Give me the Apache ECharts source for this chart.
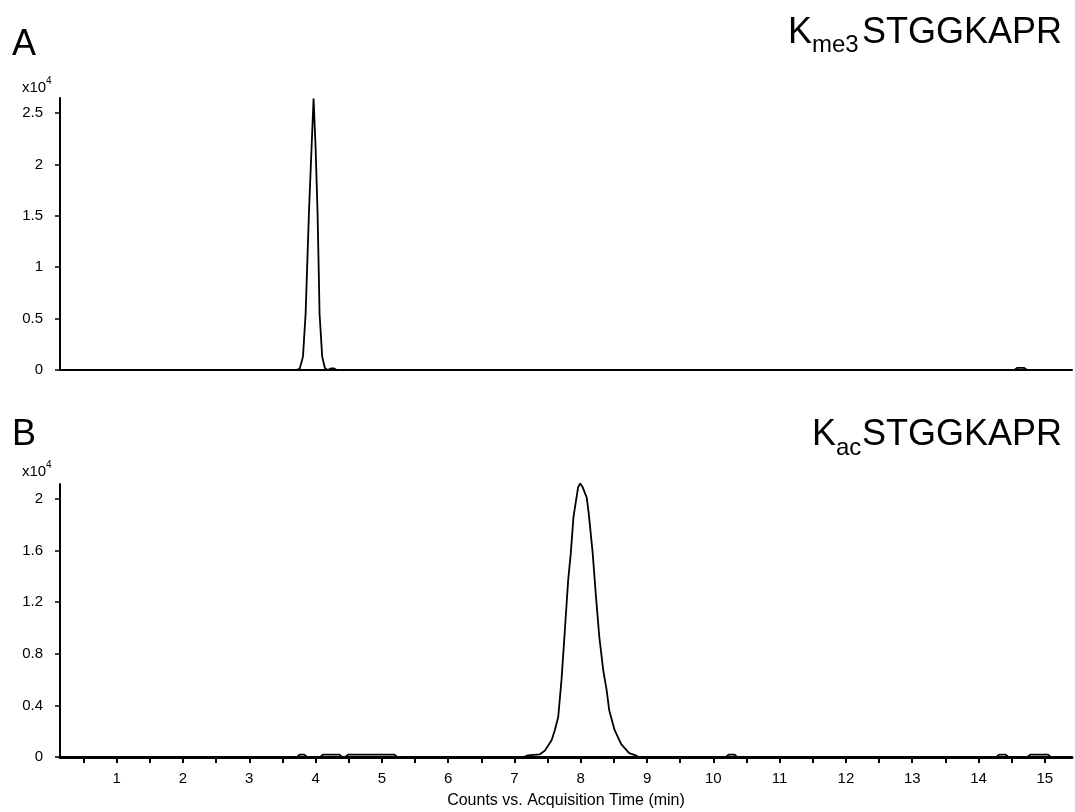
<!DOCTYPE html>
<html>
<head>
<meta charset="utf-8">
<script src="https://cdn.jsdelivr.net/npm/echarts@6/dist/echarts.min.js"></script>
<style>
  html, body { margin: 0; padding: 0; background: #fff; }
  #chart { width: 1075px; height: 812px; }
</style>
</head>
<body>
<div id="chart"></div>
<script>
// time axis (min)
const timeMin = 0.145
const timeMax = 15.41
const timeTicks = [0.5, 1, 1.5, 2, 2.5, 3, 3.5, 4, 4.5, 5, 5.5, 6, 6.5, 7, 7.5, 8, 8.5, 9, 9.5, 10, 10.5, 11, 11.5, 12, 12.5, 13, 13.5, 14, 14.5, 15]
const timeLabels = [1, 2, 3, 4, 5, 6, 7, 8, 9, 10, 11, 12, 13, 14, 15]

// panel A: Kme3STGGKAPR (counts x10^4)
const topTicks = [0, 0.5, 1, 1.5, 2, 2.5]
const topMax = 2.646
const topTime = [0.145, 3.70, 3.76, 3.81, 3.85, 3.90, 3.94, 3.97, 4.00, 4.03, 4.05, 4.06, 4.10, 4.14, 4.18, 4.23, 4.28, 4.32, 14.54, 14.58, 14.69, 14.73, 15.41]
const topVal = [0, 0, 0.01, 0.13, 0.55, 1.53, 2.17, 2.64, 2.17, 1.53, 0.9, 0.55, 0.13, 0.02, 0, 0.015, 0.015, 0, 0, 0.02, 0.02, 0, 0]

// panel B: KacSTGGKAPR (counts x10^4)
const botTicks = [0, 0.4, 0.8, 1.2, 1.6, 2]
const botMax = 2.116
const botTime = [0.145, 3.72, 3.76, 3.83, 3.87, 4.07, 4.11, 4.36, 4.40, 4.45, 4.49, 5.19, 5.23,
  7.14, 7.20, 7.38, 7.46, 7.56, 7.61, 7.66, 7.71, 7.76, 7.81, 7.85, 7.89, 7.96, 7.99,
  8.03, 8.09, 8.12, 8.18, 8.23, 8.28, 8.34, 8.39, 8.43, 8.51, 8.61, 8.73, 8.84, 8.88,
  10.19, 10.23, 10.32, 10.36, 14.27, 14.31, 14.41, 14.45, 14.74, 14.78, 15.05, 15.09, 15.41]
const botVal = [0, 0, 0.018, 0.018, 0, 0, 0.018, 0.018, 0, 0, 0.018, 0.018, 0,
  0, 0.012, 0.02, 0.05, 0.13, 0.21, 0.31, 0.60, 0.98, 1.37, 1.58, 1.86, 2.09, 2.12,
  2.09, 2.01, 1.89, 1.58, 1.24, 0.93, 0.67, 0.52, 0.36, 0.21, 0.10, 0.03, 0.01, 0,
  0, 0.018, 0.018, 0, 0, 0.018, 0.018, 0, 0, 0.018, 0.018, 0, 0]

const font = 'Liberation Sans, Arial, sans-serif'
const zip = (xs, ys) => xs.map((x, i) => [x, ys[i]])

const txt = (text, x, y, size) => ({
  type: 'text', left: x, top: y,
  style: { text: text, fontSize: size, fontFamily: font, fill: '#000', verticalAlign: 'middle' }
})

const yAxisBase = (ticks, max) => ({
  type: 'value', min: 0, max: max,
  axisLine: { show: true, lineStyle: { color: '#000', width: 2 } },
  axisTick: { show: true, length: 5, lineStyle: { color: '#000', width: 1.5 }, customValues: ticks },
  axisLabel: { color: '#000', fontSize: 15, fontFamily: font, margin: 17, customValues: ticks },
  splitLine: { show: false }
})

const chart = echarts.init(document.getElementById('chart'))

chart.setOption({
  animation: false,
  backgroundColor: '#fff',
  grid: [
    { left: 60, right: 3, top: 98, height: 272 },
    { left: 60, right: 3, top: 484, height: 273 }
  ],
  xAxis: [
    {
      gridIndex: 0, type: 'value', min: timeMin, max: timeMax,
      axisLine: { lineStyle: { color: '#000', width: 2 } },
      axisTick: { show: false }, axisLabel: { show: false }, splitLine: { show: false }
    },
    {
      gridIndex: 1, type: 'value', min: timeMin, max: timeMax,
      name: 'Counts vs. Acquisition Time (min)', nameLocation: 'middle', nameGap: 36,
      nameTextStyle: { color: '#000', fontSize: 16, fontFamily: font },
      axisLine: { lineStyle: { color: '#000', width: 3 } },
      axisTick: { show: true, length: 6, lineStyle: { color: '#000', width: 2 }, customValues: timeTicks },
      axisLabel: { color: '#000', fontSize: 15, fontFamily: font, margin: 14, customValues: timeLabels },
      splitLine: { show: false }
    }
  ],
  yAxis: [
    Object.assign({ gridIndex: 0 }, yAxisBase(topTicks, topMax)),
    Object.assign({ gridIndex: 1 }, yAxisBase(botTicks, botMax))
  ],
  series: [
    {
      type: 'line', xAxisIndex: 0, yAxisIndex: 0, data: zip(topTime, topVal),
      showSymbol: false, lineStyle: { color: '#000', width: 1.8 }, z: 5
    },
    {
      type: 'line', xAxisIndex: 1, yAxisIndex: 1, data: zip(botTime, botVal),
      showSymbol: false, lineStyle: { color: '#000', width: 1.8 }, z: 5
    }
  ],
  graphic: [
    // panel letters
    txt('A', 12, 27, 36),
    txt('B', 12, 417, 36),
    // scale factors
    txt('x10', 22, 80, 15),
    txt('4', 46, 76, 10),
    txt('x10', 22, 464, 15),
    txt('4', 46, 460, 10),
    // peptide names
    txt('K', 788, 15, 36),
    txt('me3', 812, 33, 24),
    txt('STGGKAPR', 862, 15, 36),
    txt('K', 812, 417, 36),
    txt('ac', 836, 436, 24),
    txt('STGGKAPR', 862, 417, 36)
  ]
})
</script>
</body>
</html>
